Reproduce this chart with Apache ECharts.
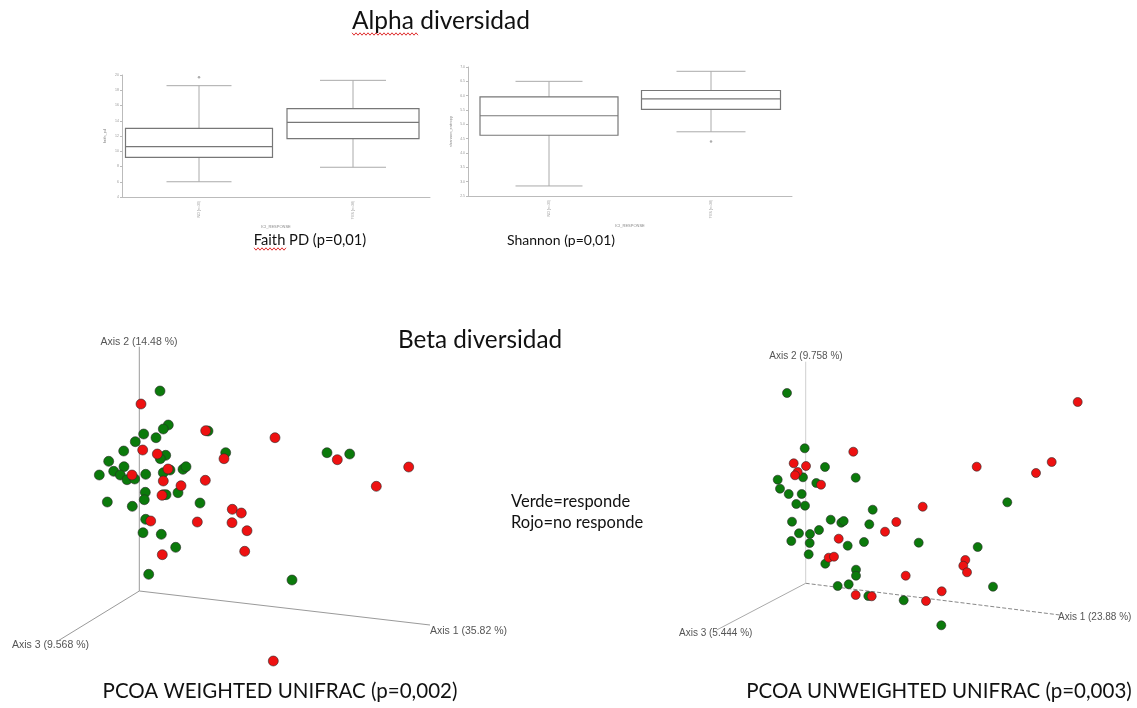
<!DOCTYPE html>
<html>
<head>
<meta charset="utf-8">
<script src="https://cdn.jsdelivr.net/npm/echarts@6/dist/echarts.min.js"></script>
<style>html,body{margin:0;padding:0;background:#fff}#c{width:1137px;height:708px}</style>
</head>
<body>
<div id="c"></div>
<script>
// ---------- DATA ----------
var boxCategories = ['NO (n=30)', 'YES (n=38)'];
// [low whisker, Q1, median, Q3, high whisker]
var faithBoxes = [[6.0, 9.2, 10.6, 13.0, 18.6], [7.9, 11.65, 13.8, 15.6, 19.3]];
var faithOutliers = [[0, 19.7]];
var shannonBoxes = [[2.85, 4.62, 5.3, 5.96, 6.5], [4.74, 5.52, 5.89, 6.18, 6.85]];
var shannonOutliers = [[1, 4.4]];

// PCoA projected coordinates (origin = axis corner, x right, y up)
var weightedGreen = [[20.7,200],[29,166],[24,162],[4.4,157],[16.7,153.3],[68.7,160],[-4,149.3],[-15.6,140],[26.4,135.7],[21,132.3],[86.4,138.3],[187.7,138.3],[210.4,137],[-30.6,129.7],[-15.3,124.3],[-25.6,119.7],[-40,116],[-19,116],[-12.3,111.3],[-4.6,112],[6.4,116.7],[30.7,121],[24,118.3],[43.7,121.7],[46.7,124.3],[6,98.7],[38.7,98.3],[24,96.3],[26.7,96.3],[5,91.3],[-32,89],[-7,84.7],[60.7,88],[6.4,71.7],[3.7,58.3],[22,56.7],[36.4,43.7],[9.4,16.7],[152.7,11]];
var weightedRed = [[1.7,187],[66.4,160.3],[135.7,153.3],[3.4,141],[18,137],[84.7,132.3],[198,131.3],[269.4,124],[-7.3,116],[28.7,122],[24,110],[41.7,105.3],[66,110.7],[237,104.7],[22.7,95.7],[93,81.7],[102,78],[92.7,68.3],[107.7,60.3],[58,69],[11.4,70],[23,36.3],[105.4,39.7],[134,-70]];
var unweightedGreen = [[-18.7,190.3],[-1,135],[19.3,116.3],[-28,103.6],[-2.7,106],[50,105.6],[10.6,100.3],[-25.7,94.6],[-17,89.3],[-4,89.3],[-9.4,79.3],[-0.7,77.6],[201.6,81],[67,73.6],[-13.7,61.6],[25,63.6],[35.6,60.6],[38,62.3],[63.6,59],[13.3,53.3],[-6.7,50],[4.3,49.3],[-14.4,42.3],[4,40.3],[42,37.6],[58.3,41.3],[113,40.6],[172,36.3],[3,29],[19.6,19.6],[50.3,13.6],[50.3,7.6],[187.3,-3.4],[32,-2.7],[43,-1],[62.6,-12.7],[98,-17],[135.6,-42]];
var unweightedRed = [[272,181.3],[47.6,131.6],[-12,120],[0.3,117.3],[171,116.6],[246,121.3],[-8,111.3],[-10.7,108],[230.3,110.3],[15.3,98.6],[117,76.6],[90.6,61.3],[79.3,51.6],[33,44.6],[23,25.6],[28.3,26.6],[159.6,23.3],[157.6,17.6],[161.3,11],[100,7.6],[136,-8],[50,-11.7],[66,-13],[120.3,-17.7]];

// 3D axis end points in projected coordinates
var weightedAxisEnds = {a1: [290.7, -34], a2: [0, 244.3], a3: [-82.6, -50.7]};
var unweightedAxisEnds = {a1: [254.3, -31.7], a2: [0, 221.6], a3: [-89, -46.7]};
var weightedAxisNames = ['Axis 1 (35.82 %)', 'Axis 2 (14.48 %)', 'Axis 3 (9.568 %)'];
var unweightedAxisNames = ['Axis 1 (23.88 %)', 'Axis 2 (9.758 %)', 'Axis 3 (5.444 %)'];

// ---------- CHART ----------
var chart = echarts.init(document.getElementById('c'), null, {renderer: 'canvas'});
var TITLE_FONT = 'Lato, "Open Sans", sans-serif';
var SMALL_FONT = '"Liberation Sans", Arial, sans-serif';

function toBoxData(boxes) {
  return boxes.map(function (b, i) { return [i].concat(b); });
}
function boxRenderer(boxW, capW) {
  return function (params, api) {
    var i = params.dataIndex;
    var c = api.value(0);
    var lo = api.coord([c, api.value(1)]);
    var q1 = api.coord([c, api.value(2)]);
    var md = api.coord([c, api.value(3)]);
    var q3 = api.coord([c, api.value(4)]);
    var hi = api.coord([c, api.value(5)]);
    var x = lo[0], bw = boxW[i] / 2, cw = capW[i] / 2;
    var wl = {stroke: '#aaa', lineWidth: 1};
    var bl = {stroke: '#777', lineWidth: 1.2, fill: 'none'};
    return {
      type: 'group',
      children: [
        {type: 'line', shape: {x1: x, y1: hi[1], x2: x, y2: q3[1]}, style: wl},
        {type: 'line', shape: {x1: x, y1: q1[1], x2: x, y2: lo[1]}, style: wl},
        {type: 'line', shape: {x1: x - cw, y1: hi[1], x2: x + cw, y2: hi[1]}, style: wl},
        {type: 'line', shape: {x1: x - cw, y1: lo[1], x2: x + cw, y2: lo[1]}, style: wl},
        {type: 'rect', shape: {x: x - bw, y: q3[1], width: 2 * bw, height: q1[1] - q3[1]}, style: bl},
        {type: 'line', shape: {x1: x - bw, y1: md[1], x2: x + bw, y2: md[1]}, style: {stroke: '#777', lineWidth: 1.2}}
      ]
    };
  };
}

function boxXAxis(gi) {
  return {
    type: 'category', gridIndex: gi, data: boxCategories,
    name: 'ICI_RESPONSE', nameLocation: 'middle', nameGap: 28,
    nameTextStyle: {fontSize: 4, color: '#888', fontFamily: SMALL_FONT},
    axisLine: {lineStyle: {color: '#bbb'}},
    axisTick: {alignWithLabel: true, length: 3, lineStyle: {color: '#bbb'}},
    axisLabel: {rotate: 90, fontSize: 3.5, color: '#999', margin: 4, fontFamily: SMALL_FONT},
    splitLine: {show: false}
  };
}
function boxYAxis(gi, name, min, max, interval, dec) {
  return {
    type: 'value', gridIndex: gi, min: min, max: max, interval: interval,
    name: name, nameLocation: 'middle', nameGap: 15, nameRotate: 90,
    nameTextStyle: {fontSize: 4, color: '#888', fontFamily: SMALL_FONT},
    axisLine: {show: true, lineStyle: {color: '#bbb'}},
    axisTick: {show: true, length: 2, lineStyle: {color: '#bbb'}},
    axisLabel: {fontSize: 3.5, color: '#999', margin: 3, fontFamily: SMALL_FONT,
      formatter: function (v) { return v.toFixed(dec); }},
    splitLine: {show: false}
  };
}
function hiddenAxis(gi, min, max) {
  return {type: 'value', gridIndex: gi, min: min, max: max, show: false, splitLine: {show: false}};
}

function axisLineSeries(gi, end, color, dashed) {
  return {
    type: 'line', xAxisIndex: gi, yAxisIndex: gi, data: [[0, 0], end],
    symbol: 'none', silent: true, z: 1, animation: false,
    lineStyle: {color: color, width: 1, type: dashed ? 'dashed' : 'solid'}
  };
}
function pointSeries(gi, name, data, color, size) {
  return {
    type: 'scatter', name: name, xAxisIndex: gi, yAxisIndex: gi, data: data,
    symbol: 'circle', symbolSize: size, z: 3, animation: false,
    itemStyle: {color: color, borderColor: '#2a2a2a', borderWidth: 0.6, opacity: 1}
  };
}

function squiggle(x0, x1, y) {
  var pts = [];
  for (var x = x0, k = 0; x <= x1; x += 2, k++) pts.push([x, y + (k % 2 ? 1.2 : -1.2)]);
  return {type: 'polyline', shape: {points: pts}, style: {stroke: '#e03030', lineWidth: 1, fill: null}};
}
function txt(x, y, text, size, align, color, font) {
  return {type: 'text', x: x, y: y, style: {text: text, fontSize: size, fill: color || '#111',
    fontFamily: font || TITLE_FONT, textAlign: align || 'left', textVerticalAlign: 'middle'}};
}

var option = {
  backgroundColor: '#fff',
  animation: false,
  grid: [
    {left: 122, top: 75, width: 308, height: 122},
    {left: 468, top: 67, width: 324, height: 129},
    {left: 0, top: 330, width: 440, height: 340},
    {left: 640, top: 340, width: 497, height: 320}
  ],
  xAxis: [
    boxXAxis(0), boxXAxis(1),
    hiddenAxis(2, -139.3, 300.7), hiddenAxis(3, -165.7, 331.3)
  ],
  yAxis: [
    boxYAxis(0, 'faith_pd', 4, 20, 2, 0),
    boxYAxis(1, 'shannon_entropy', 2.5, 7, 0.5, 1),
    hiddenAxis(2, -79, 261), hiddenAxis(3, -76.7, 243.3)
  ],
  series: [
    {type: 'custom', xAxisIndex: 0, yAxisIndex: 0, data: toBoxData(faithBoxes),
      renderItem: boxRenderer([147, 132], [65, 66]), encode: {x: 0, y: [1, 2, 3, 4, 5]}},
    {type: 'scatter', xAxisIndex: 0, yAxisIndex: 0, data: faithOutliers, symbolSize: 2.5,
      itemStyle: {color: '#999'}},
    {type: 'custom', xAxisIndex: 1, yAxisIndex: 1, data: toBoxData(shannonBoxes),
      renderItem: boxRenderer([138, 139], [67, 69]), encode: {x: 0, y: [1, 2, 3, 4, 5]}},
    {type: 'scatter', xAxisIndex: 1, yAxisIndex: 1, data: shannonOutliers, symbolSize: 2.5,
      itemStyle: {color: '#999'}},

    axisLineSeries(2, weightedAxisEnds.a1, '#9a9a9a', false),
    axisLineSeries(2, weightedAxisEnds.a2, '#9a9a9a', false),
    axisLineSeries(2, weightedAxisEnds.a3, '#9a9a9a', false),
    pointSeries(2, 'responde', weightedGreen, '#0b7a0b', 10),
    pointSeries(2, 'no responde', weightedRed, '#ee1111', 10),

    axisLineSeries(3, unweightedAxisEnds.a1, '#888', true),
    axisLineSeries(3, unweightedAxisEnds.a2, '#cfcfcf', false),
    axisLineSeries(3, unweightedAxisEnds.a3, '#aaa', false),
    pointSeries(3, 'responde', unweightedGreen, '#0b7a0b', 9),
    pointSeries(3, 'no responde', unweightedRed, '#ee1111', 9)
  ],
  graphic: [
    txt(441, 21, 'Alpha diversidad', 24.5, 'center'),
    squiggle(352, 419, 34),
    txt(310, 240, 'Faith PD (p=0,01)', 14.7, 'center'),
    squiggle(254, 287, 249),
    txt(561, 240, 'Shannon (p=0,01)', 14, 'center'),
    txt(480, 340, 'Beta diversidad', 24.3, 'center'),
    txt(511, 502, 'Verde=responde', 16.5, 'left'),
    txt(511, 523, 'Rojo=no responde', 16.5, 'left'),
    txt(280, 691, 'PCOA WEIGHTED UNIFRAC (p=0,002)', 20.5, 'center'),
    txt(939, 691, 'PCOA UNWEIGHTED UNIFRAC (p=0,003)', 20.5, 'center'),

    txt(139, 342, weightedAxisNames[1], 10.5, 'center', '#555', SMALL_FONT),
    txt(430, 631, weightedAxisNames[0], 10.5, 'left', '#555', SMALL_FONT),
    txt(12, 645, weightedAxisNames[2], 10.5, 'left', '#555', SMALL_FONT),
    txt(806, 356, unweightedAxisNames[1], 10, 'center', '#555', SMALL_FONT),
    txt(1058, 617, unweightedAxisNames[0], 10, 'left', '#555', SMALL_FONT),
    txt(679, 633, unweightedAxisNames[2], 10, 'left', '#555', SMALL_FONT)
  ]
};
chart.setOption(option);
</script>
</body>
</html>
